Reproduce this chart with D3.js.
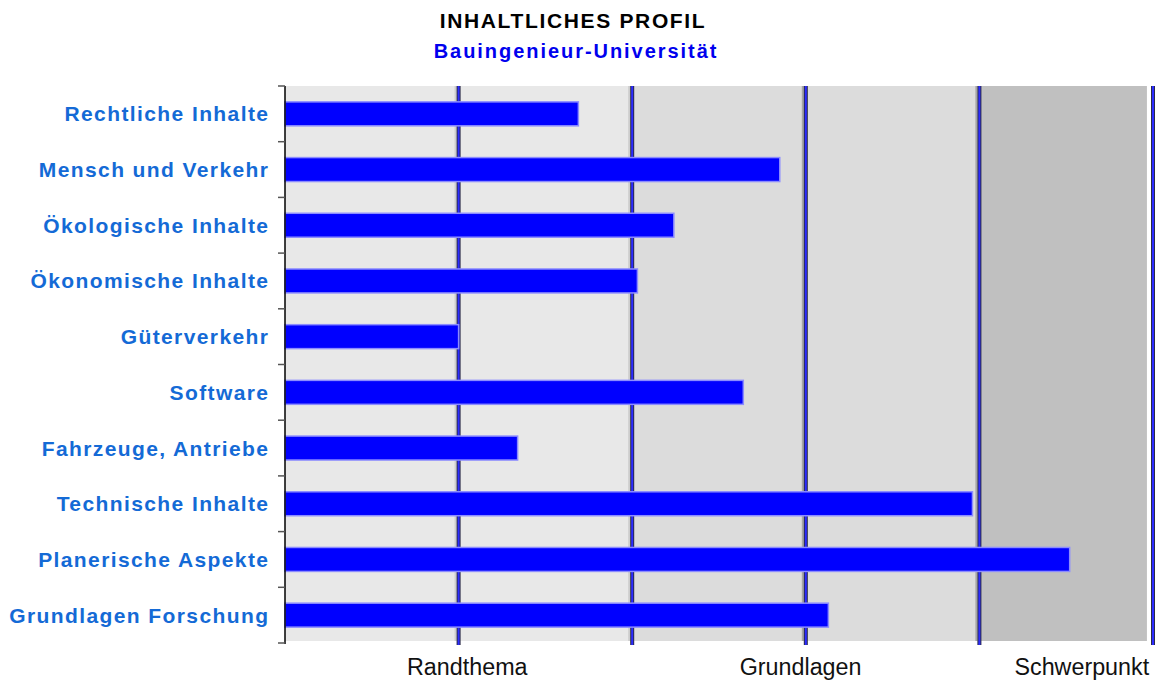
<!DOCTYPE html>
<html>
<head>
<meta charset="utf-8">
<script src="https://cdn.jsdelivr.net/npm/d3@7"></script>
<style>
  html, body { margin: 0; padding: 0; background: #ffffff; }
  svg { display: block; }
</style>
</head>
<body>
<svg id="chart" width="1160" height="680"></svg>
<script>
// ---- data ----
const titleText = "INHALTLICHES PROFIL";
const subtitleText = "Bauingenieur-Universität";
const categories = [
  "Rechtliche Inhalte",
  "Mensch und Verkehr",
  "Ökologische Inhalte",
  "Ökonomische Inhalte",
  "Güterverkehr",
  "Software",
  "Fahrzeuge, Antriebe",
  "Technische Inhalte",
  "Planerische Aspekte",
  "Grundlagen Forschung"
];
const values = [1.69, 2.85, 2.24, 2.03, 1.00, 2.64, 1.34, 3.96, 4.52, 3.13];
const gridValues = [1, 2, 3, 4, 5];
const zoneStarts = [0, 2, 4];
const zoneEnds = [2, 4, 4.965];
const zoneColors = ["#e8e8e8", "#dcdcdc", "#c0c0c0"];
const tickLabels = ["Randthema", "Grundlagen", "Schwerpunkt"];
const tickPositions = [1.05, 2.97, 4.59];

// ---- layout ----
(function () {
const svg = d3.select("#chart");
const pLeft = 285, pRight = 1153, pTop = 86, pBottom = 643;

const x = d3.scaleLinear().domain([0, 5]).range([pLeft, pRight]);
const y = d3.scaleBand().domain(categories).range([pTop, pBottom]).padding(0);

// title
svg.append("text")
  .attr("x", 573).attr("y", 27.5)
  .attr("text-anchor", "middle")
  .attr("font-family", "Liberation Sans, Arial, sans-serif")
  .attr("font-weight", "bold").attr("font-size", 21)
  .attr("letter-spacing", 1.65)
  .attr("fill", "#000000")
  .text(titleText);

svg.append("text")
  .attr("x", 576).attr("y", 57.5)
  .attr("text-anchor", "middle")
  .attr("font-family", "Liberation Sans, Arial, sans-serif")
  .attr("font-weight", "bold").attr("font-size", 20)
  .attr("letter-spacing", 1.95)
  .attr("fill", "#0000ee")
  .text(subtitleText);

// background zones
svg.append("g").selectAll("rect")
  .data(zoneStarts)
  .join("rect")
  .attr("x", (d) => x(d))
  .attr("y", pTop)
  .attr("width", (d, i) => x(zoneEnds[i]) - x(d))
  .attr("height", pBottom - pTop - 2)
  .attr("fill", (d, i) => zoneColors[i]);

// grid lines
const grid = svg.append("g");
grid.selectAll("rect.shadow")
  .data(gridValues.slice(0, 4))
  .join("rect").attr("class", "shadow")
  .attr("x", (d) => x(d) - 4)
  .attr("y", pTop)
  .attr("width", 2)
  .attr("height", pBottom - pTop - 2)
  .attr("fill", "#a6a6a6")
  .attr("opacity", (d) => d >= 3 ? 1 : 0.4);
grid.selectAll("rect.outer")
  .data(gridValues)
  .join("rect").attr("class", "outer")
  .attr("x", (d) => x(d) - 2)
  .attr("y", pTop)
  .attr("width", 4)
  .attr("height", pBottom - pTop + 2)
  .attr("fill", "#2a2a48");
grid.selectAll("rect.inner")
  .data(gridValues)
  .join("rect").attr("class", "inner")
  .attr("x", (d) => x(d) - 1)
  .attr("y", pTop)
  .attr("width", 2)
  .attr("height", pBottom - pTop + 2)
  .attr("fill", "#2c2cff");

// bars
const barH = y.bandwidth() * 0.43;
svg.append("g").selectAll("rect")
  .data(categories)
  .join("rect")
  .attr("x", x(0))
  .attr("y", (d) => y(d) + (y.bandwidth() - barH) / 2)
  .attr("width", (d, i) => x(values[i]) - x(0))
  .attr("height", barH)
  .attr("fill", "#0000ff")
  .attr("stroke", "#8c8cff")
  .attr("stroke-width", 1.5);

// left axis
const yAxisG = svg.append("g").attr("transform", `translate(${pLeft},0)`);
yAxisG.append("line")
  .attr("x1", 0).attr("x2", 0)
  .attr("y1", pTop).attr("y2", pBottom + 1)
  .attr("stroke", "#000").attr("stroke-width", 1.5);
const boundaries = categories.map((c) => y(c)).concat([pBottom]);
yAxisG.selectAll("line.tick")
  .data(boundaries)
  .join("line").attr("class", "tick")
  .attr("x1", -7).attr("x2", 0)
  .attr("y1", (d) => d).attr("y2", (d) => d)
  .attr("stroke", "#555").attr("stroke-width", 1.5);

// category labels
const labelLS = 1.4;
svg.append("g").selectAll("text")
  .data(categories)
  .join("text")
  .attr("x", 268 + labelLS)
  .attr("y", (d) => y(d) + y.bandwidth() / 2 + 7.5)
  .attr("text-anchor", "end")
  .attr("font-family", "Liberation Sans, Arial, sans-serif")
  .attr("font-weight", "bold").attr("font-size", 21)
  .attr("letter-spacing", labelLS)
  .attr("fill", "#146ad6")
  .text((d) => d);

// bottom labels
svg.append("g").selectAll("text")
  .data(tickLabels)
  .join("text")
  .attr("x", (d, i) => x(tickPositions[i]))
  .attr("y", 675)
  .attr("text-anchor", "middle")
  .attr("font-family", "Liberation Sans, Arial, sans-serif")
  .attr("font-size", 23.3)
  .attr("fill", "#111111")
  .text((d) => d);
})();
</script>
</body>
</html>
